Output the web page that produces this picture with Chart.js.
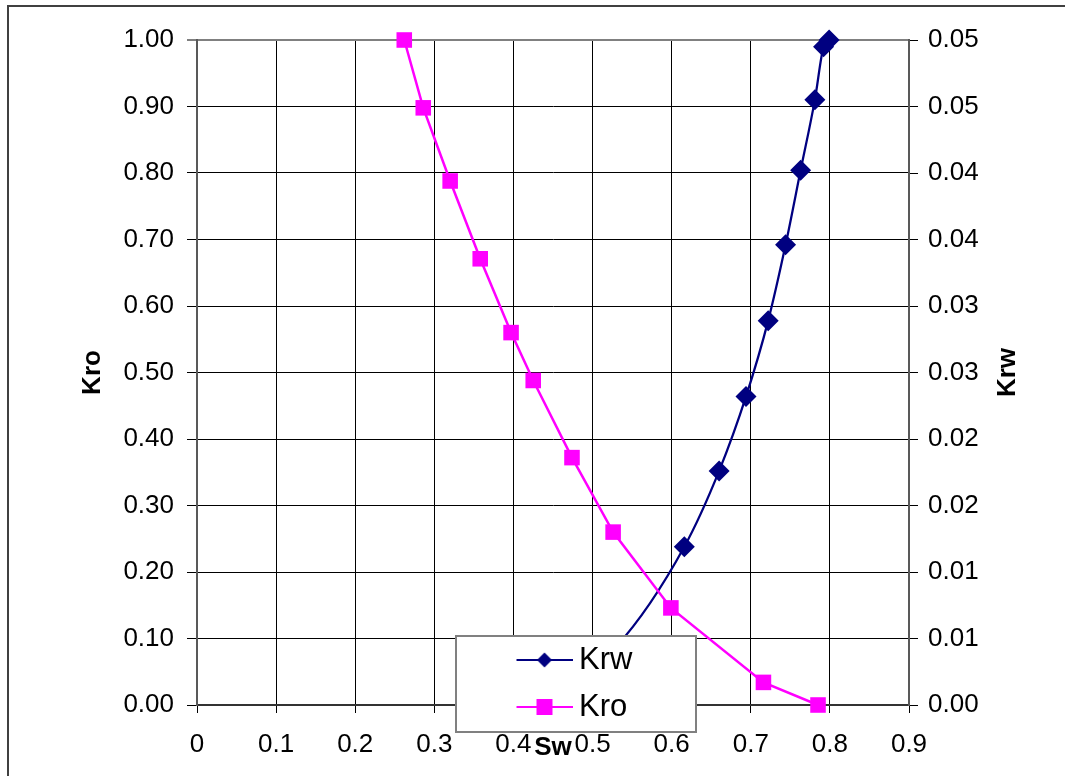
<!DOCTYPE html>
<html><head><meta charset="utf-8">
<script src="https://cdn.jsdelivr.net/npm/chart.js@4.4.1/dist/chart.umd.min.js"></script>
<style>html,body{margin:0;padding:0;background:#fff;overflow:hidden}canvas{display:block}</style>
</head><body>
<canvas id="c" width="1065" height="776"></canvas>
<script>
// ---- data ----
const swKro = [0.262, 0.286, 0.320, 0.358, 0.397, 0.425, 0.474, 0.526, 0.599, 0.716, 0.785];
const kroValues = [1.00, 0.898, 0.788, 0.671, 0.560, 0.488, 0.372, 0.260, 0.146, 0.034, 0.000];
const swKrw = [0.35, 0.41, 0.47, 0.53, 0.616, 0.660, 0.694, 0.722, 0.744, 0.763, 0.781, 0.792, 0.799];
const krwValues = [0.0000, 0.0004, 0.0018, 0.0044, 0.0119, 0.0176, 0.0232, 0.0289, 0.0346, 0.0402, 0.0455, 0.0495, 0.0500];
const xTickLabels = ['0', '0.1', '0.2', '0.3', '0.4', '0.5', '0.6', '0.7', '0.8', '0.9'];
const kroTickLabels = ['0.00', '0.10', '0.20', '0.30', '0.40', '0.50', '0.60', '0.70', '0.80', '0.90', '1.00'];
const krwTickLabels = ['0.00', '0.01', '0.01', '0.02', '0.02', '0.03', '0.03', '0.04', '0.04', '0.05', '0.05'];
const seriesNames = ['Krw', 'Kro'];
const xTitle = 'Sw', yTitle = 'Kro', y2Title = 'Krw';

const FONT = "'Liberation Sans', Arial, sans-serif";
const NAVY = '#000080', MAGENTA = '#FF00FF';

function makeIcon(color, shape) {
  const c = document.createElement('canvas');
  c.width = 66; c.height = 20;
  const g = c.getContext('2d');
  g.strokeStyle = color; g.lineWidth = 2;
  g.beginPath(); g.moveTo(10, 10); g.lineTo(66, 10); g.stroke();
  g.fillStyle = color; g.beginPath();
  if (shape === 'diamond') { g.moveTo(38, 2.5); g.lineTo(45.5, 10); g.lineTo(38, 17.5); g.lineTo(30.5, 10); g.closePath(); }
  else { g.rect(30, 2, 16, 16); }
  g.fill();
  return c;
}
const icons = [makeIcon(NAVY, 'diamond'), makeIcon(MAGENTA, 'square')];

const framePlugin = {
  id: 'frame',
  beforeDraw(chart) {
    const ctx = chart.ctx;
    ctx.save();
    ctx.fillStyle = '#fff'; ctx.fillRect(0, 0, chart.width, chart.height);
    ctx.strokeStyle = '#404040'; ctx.lineWidth = 2;
    ctx.strokeRect(8, 6, 1100, 800);
    ctx.restore();
  },
  afterLayout(chart) {
    const lg = chart.legend;
    lg.left = 499.5; lg.top = 628.5; lg.right = 699; lg.bottom = 760;
    lg.width = lg.right - lg.left; lg.height = lg.bottom - lg.top;
  },
  afterDatasetsDraw(chart) {
    const ctx = chart.ctx;
    ctx.save();
    ctx.fillStyle = '#fff'; ctx.fillRect(456, 636, 240, 96);
    ctx.strokeStyle = '#808080'; ctx.lineWidth = 2; ctx.strokeRect(456, 636, 240, 96);
    ctx.restore();
    chart.legend.draw();
  },
  afterDraw(chart) {
    const ctx = chart.ctx;
    const t = chart.options.scales.y2.title;
    ctx.save();
    ctx.translate(1008, (chart.chartArea.top + chart.chartArea.bottom) / 2);
    ctx.rotate(-Math.PI / 2);
    ctx.font = 'bold 26px ' + FONT;
    ctx.fillStyle = '#000'; ctx.textAlign = 'center'; ctx.textBaseline = 'middle';
    ctx.fillText(t.text, 0, 0);
    ctx.restore();
  }
};

new Chart(document.getElementById('c'), {
  type: 'line',
  data: {
    datasets: [
      {
        label: seriesNames[0],
        data: swKrw.map((x, i) => ({x, y: krwValues[i]})),
        yAxisID: 'y2',
        borderColor: NAVY, backgroundColor: NAVY,
        borderWidth: 2.25,
        pointStyle: 'rectRot', pointRadius: 10.5, pointBorderWidth: 0,
        pointBackgroundColor: NAVY,
        cubicInterpolationMode: 'monotone',
        clip: false, order: 1
      },
      {
        label: seriesNames[1],
        data: swKro.map((x, i) => ({x, y: kroValues[i]})),
        yAxisID: 'y',
        borderColor: MAGENTA, backgroundColor: MAGENTA,
        borderWidth: 2.5,
        pointStyle: 'rect', pointRadius: 11, pointBorderWidth: 0,
        pointBackgroundColor: MAGENTA,
        tension: 0,
        clip: false, order: 0
      }
    ]
  },
  options: {
    responsive: false,
    animation: false,
    devicePixelRatio: 1,
    layout: {padding: {top: 40, left: 0, right: 0, bottom: 0}},
    plugins: {
      tooltip: {enabled: false},
      legend: {
        position: 'chartArea',
        fullSize: false,
        align: 'start',
        labels: {
          usePointStyle: true,
          pointStyleWidth: 48,
          padding: 16,
          color: '#000',
          font: {family: FONT, size: 31},
          generateLabels: (chart) => chart.data.datasets.map((ds, i) => ({
            text: ds.label, pointStyle: icons[i], fillStyle: ds.borderColor,
            strokeStyle: ds.borderColor, fontColor: '#000', lineWidth: 0, hidden: false, datasetIndex: i
          }))
        }
      }
    },
    scales: {
      x: {
        type: 'linear', position: 'bottom', min: 0, max: 0.9,
        afterFit: (s) => { s.height = 71; },
        ticks: {stepSize: 0.1, padding: 16, color: '#000', font: {family: FONT, size: 26},
          callback: (v, i) => xTickLabels[i]},
        grid: {color: '#000', lineWidth: 1, tickLength: 8, tickColor: '#000'},
        border: {color: '#333', width: 2},
        title: {display: true, text: xTitle, color: '#000', font: {family: FONT, size: 26, weight: 'bold'},
          padding: {top: 0, bottom: 13}}
      },
      y: {
        type: 'linear', position: 'left', min: 0, max: 1,
        afterFit: (s) => { s.width = 197; },
        ticks: {stepSize: 0.1, padding: 13, color: '#000', font: {family: FONT, size: 26},
          callback: (v, i) => kroTickLabels[i]},
        grid: {
          color: (c) => (c.tick && c.tick.value === 1 ? '#808080' : '#000'),
          lineWidth: (c) => (c.tick && c.tick.value === 1 ? 2 : 1),
          tickLength: 10, tickColor: '#000', tickWidth: 1
        },
        border: {color: '#595959', width: 2},
        title: {display: true, text: yTitle, color: '#000', font: {family: FONT, size: 26, weight: 'bold'},
          padding: {top: 77, bottom: 0}}
      },
      y2: {
        type: 'linear', position: 'right', min: 0, max: 0.05,
        afterFit: (s) => { s.width = 156; },
        ticks: {stepSize: 0.005, padding: 10, color: '#000', font: {family: FONT, size: 26},
          callback: (v, i) => krwTickLabels[i]},
        grid: {drawOnChartArea: false, tickLength: 9, color: '#000', tickColor: '#000'},
        border: {color: '#595959', width: 2},
        title: {display: true, text: y2Title, color: 'rgba(0,0,0,0)', font: {family: FONT, size: 26, weight: 'bold'},
          padding: {top: 0, bottom: 0}}
      }
    }
  },
  plugins: [framePlugin]
});
</script>
</body></html>
